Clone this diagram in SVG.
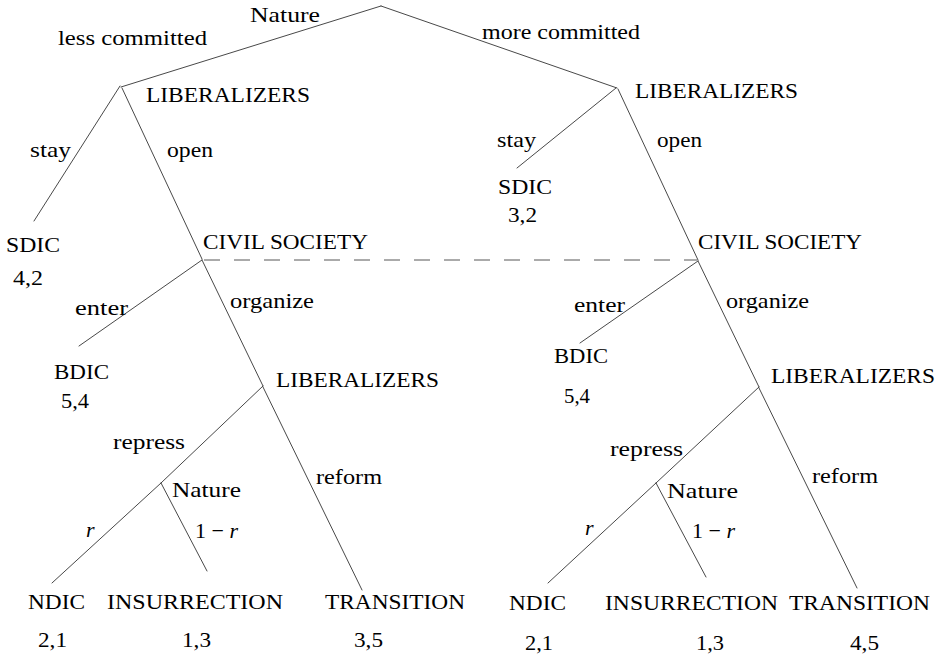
<svg xmlns="http://www.w3.org/2000/svg" width="944" height="658" viewBox="0 0 944 658">
  <style>
    text { font-family: "Liberation Serif", "Times New Roman", serif; font-size: 22px; fill: #000; }
    .edge { stroke: #333; stroke-width: 0.9; fill: none; stroke-linecap: round; }
    .info { stroke: #444; stroke-width: 0.9; fill: none; stroke-dasharray: 16 14; }
    .it { font-style: italic; }
  </style>
  <rect width="944" height="658" fill="#fff"/>

  <!-- branches of the game tree -->
  <g id="connectors">
    <line class="edge" x1="381" y1="6" x2="121" y2="87"/>
    <line class="edge" x1="381" y1="6" x2="617" y2="88"/>
    <line class="edge" x1="120" y1="86" x2="34" y2="221"/>
    <line class="edge" x1="122" y1="88" x2="202" y2="259"/>
    <line class="edge" x1="202" y1="260" x2="79" y2="346"/>
    <line class="edge" x1="202" y1="260" x2="263" y2="386"/>
    <line class="edge" x1="263" y1="386" x2="161" y2="483"/>
    <line class="edge" x1="161" y1="483" x2="52" y2="583"/>
    <line class="edge" x1="161" y1="483" x2="207" y2="571"/>
    <line class="edge" x1="263" y1="387" x2="362" y2="590"/>
    <line class="edge" x1="616" y1="88" x2="517" y2="168"/>
    <line class="edge" x1="618" y1="89" x2="698" y2="260"/>
    <line class="edge" x1="698" y1="261" x2="580" y2="343"/>
    <line class="edge" x1="698" y1="261" x2="759" y2="387"/>
    <line class="edge" x1="759" y1="387" x2="656" y2="483"/>
    <line class="edge" x1="656" y1="483" x2="548" y2="583"/>
    <line class="edge" x1="656" y1="483" x2="706" y2="577"/>
    <line class="edge" x1="759" y1="388" x2="857" y2="588"/>
    <!-- information set joining the two civil-society moves -->
    <line class="info" x1="204" y1="260" x2="697" y2="260"/>

    <g id="edge-labels">
      <text x="58" y="45" textLength="149" lengthAdjust="spacingAndGlyphs">less committed</text>
      <text x="482" y="39" textLength="158" lengthAdjust="spacingAndGlyphs">more committed</text>
      <text x="30" y="157" textLength="41" lengthAdjust="spacingAndGlyphs">stay</text>
      <text x="167" y="157" textLength="46" lengthAdjust="spacingAndGlyphs">open</text>
      <text x="497" y="147" textLength="39" lengthAdjust="spacingAndGlyphs">stay</text>
      <text x="657" y="147" textLength="45" lengthAdjust="spacingAndGlyphs">open</text>
      <text x="75" y="315" textLength="53" lengthAdjust="spacingAndGlyphs">enter</text>
      <text x="230" y="308" textLength="84" lengthAdjust="spacingAndGlyphs">organize</text>
      <text x="574" y="312" textLength="51" lengthAdjust="spacingAndGlyphs">enter</text>
      <text x="726" y="308" textLength="83" lengthAdjust="spacingAndGlyphs">organize</text>
      <text x="113" y="449" textLength="72" lengthAdjust="spacingAndGlyphs">repress</text>
      <text x="316" y="484" textLength="66" lengthAdjust="spacingAndGlyphs">reform</text>
      <text x="610" y="456" textLength="73" lengthAdjust="spacingAndGlyphs">repress</text>
      <text x="812" y="483" textLength="66" lengthAdjust="spacingAndGlyphs">reform</text>
      <text class="it" x="86" y="537">r</text>
      <text x="195" y="538">1 − <tspan class="it">r</tspan></text>
      <text class="it" x="585" y="535">r</text>
      <text x="692" y="538">1 − <tspan class="it">r</tspan></text>
    </g>
  </g>

  <!-- decision nodes -->
  <g id="nature-root">
    <text x="250" y="22" textLength="70" lengthAdjust="spacingAndGlyphs">Nature</text>
  </g>
  <g id="liberalizers-less">
    <text x="146" y="102" textLength="164" lengthAdjust="spacingAndGlyphs">LIBERALIZERS</text>
  </g>
  <g id="liberalizers-more">
    <text x="635" y="98" textLength="163" lengthAdjust="spacingAndGlyphs">LIBERALIZERS</text>
  </g>
  <g id="civil-society-less">
    <text x="203" y="249" textLength="165" lengthAdjust="spacingAndGlyphs">CIVIL SOCIETY</text>
  </g>
  <g id="civil-society-more">
    <text x="698" y="249" textLength="164" lengthAdjust="spacingAndGlyphs">CIVIL SOCIETY</text>
  </g>
  <g id="liberalizers-less-2">
    <text x="276" y="387" textLength="163" lengthAdjust="spacingAndGlyphs">LIBERALIZERS</text>
  </g>
  <g id="liberalizers-more-2">
    <text x="771" y="383" textLength="164" lengthAdjust="spacingAndGlyphs">LIBERALIZERS</text>
  </g>
  <g id="nature-less">
    <text x="172" y="497" textLength="69" lengthAdjust="spacingAndGlyphs">Nature</text>
  </g>
  <g id="nature-more">
    <text x="667" y="498" textLength="71" lengthAdjust="spacingAndGlyphs">Nature</text>
  </g>

  <!-- outcomes with payoffs -->
  <g id="sdic-less">
    <text x="6" y="252" textLength="54" lengthAdjust="spacingAndGlyphs">SDIC</text>
    <text x="13" y="285" textLength="30" lengthAdjust="spacingAndGlyphs">4,2</text>
  </g>
  <g id="sdic-more">
    <text x="498" y="194" textLength="54" lengthAdjust="spacingAndGlyphs">SDIC</text>
    <text x="508" y="222" textLength="29" lengthAdjust="spacingAndGlyphs">3,2</text>
  </g>
  <g id="bdic-less">
    <text x="54" y="379" textLength="55" lengthAdjust="spacingAndGlyphs">BDIC</text>
    <text x="61" y="408" textLength="28" lengthAdjust="spacingAndGlyphs">5,4</text>
  </g>
  <g id="bdic-more">
    <text x="554" y="363" textLength="54" lengthAdjust="spacingAndGlyphs">BDIC</text>
    <text x="564" y="403" textLength="26" lengthAdjust="spacingAndGlyphs">5,4</text>
  </g>
  <g id="ndic-less">
    <text x="28" y="609" textLength="57" lengthAdjust="spacingAndGlyphs">NDIC</text>
    <text x="38" y="647" textLength="29" lengthAdjust="spacingAndGlyphs">2,1</text>
  </g>
  <g id="insurrection-less">
    <text x="107" y="609" textLength="176" lengthAdjust="spacingAndGlyphs">INSURRECTION</text>
    <text x="182" y="647" textLength="29" lengthAdjust="spacingAndGlyphs">1,3</text>
  </g>
  <g id="transition-less">
    <text x="325" y="609" textLength="140" lengthAdjust="spacingAndGlyphs">TRANSITION</text>
    <text x="354" y="647" textLength="29" lengthAdjust="spacingAndGlyphs">3,5</text>
  </g>
  <g id="ndic-more">
    <text x="509" y="610" textLength="57" lengthAdjust="spacingAndGlyphs">NDIC</text>
    <text x="525" y="650" textLength="28" lengthAdjust="spacingAndGlyphs">2,1</text>
  </g>
  <g id="insurrection-more">
    <text x="605" y="610" textLength="173" lengthAdjust="spacingAndGlyphs">INSURRECTION</text>
    <text x="696" y="650" textLength="28" lengthAdjust="spacingAndGlyphs">1,3</text>
  </g>
  <g id="transition-more">
    <text x="789" y="610" textLength="141" lengthAdjust="spacingAndGlyphs">TRANSITION</text>
    <text x="850" y="650" textLength="29" lengthAdjust="spacingAndGlyphs">4,5</text>
  </g>
</svg>
